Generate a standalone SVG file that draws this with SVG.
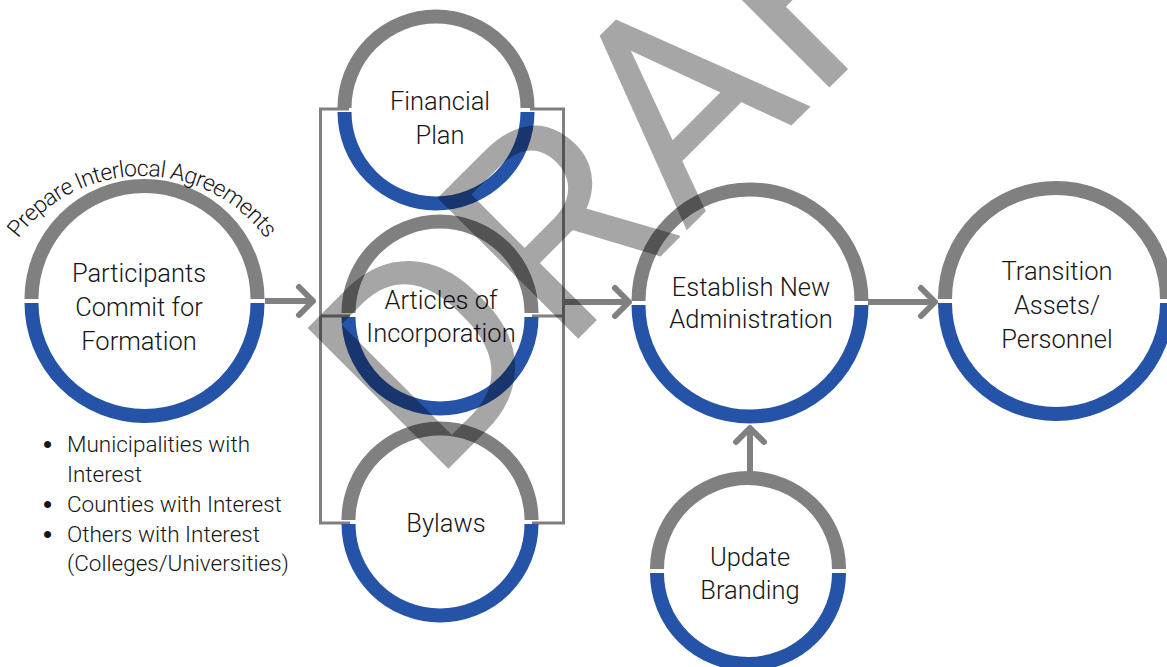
<svg xmlns="http://www.w3.org/2000/svg" width="1167" height="667" viewBox="0 0 1167 667">
  <defs>
    <style>
      .top { fill: none; stroke: #808080; stroke-width: 14; }
      .bot { fill: none; stroke: #2553A8; stroke-width: 14; }
      .lbl { font-family: Roboto, "Open Sans", "Liberation Sans", sans-serif; font-weight: 300; font-size: 25.5px; fill: #161616; text-anchor: middle; }
      .bul { font-family: Roboto, "Open Sans", "Liberation Sans", sans-serif; font-weight: 300; font-size: 22.5px; fill: #161616; }
      .dot { font-family: "Liberation Sans", sans-serif; font-size: 26px; fill: #161616; }
      .arc { font-family: Roboto, "Open Sans", "Liberation Sans", sans-serif; font-weight: 300; font-size: 23px; letter-spacing: -0.6px; fill: #161616; }
      .wire { fill: none; stroke: #808080; stroke-width: 3; }
      .arrow { fill: none; stroke: #808080; stroke-width: 6; }
      .mark { font-family: Roboto, "Open Sans", "Liberation Sans", sans-serif; font-weight: 400; font-size: 280px; fill: #000; fill-opacity: 0.35; }
    </style>
    <marker id="chev" viewBox="-20 -20 26 40" markerWidth="26" markerHeight="40" refX="0" refY="0" orient="auto" markerUnits="userSpaceOnUse">
      <path d="M-14,-14 L0,0 L-14,14" fill="none" stroke="#808080" stroke-width="6" stroke-linecap="round" stroke-linejoin="round"/>
    </marker>
    <path id="arcPath" d="M -12 330 A 154 154 0 0 1 296 330"/>
  </defs>

  <rect width="1167" height="667" fill="#fff"/>

  <!-- connectors -->
  <g id="connectors">
    <path class="wire" d="M349,109 H320.5 V523 H350 M320.5,316 H350"/>
    <path class="wire" d="M530,109 H563.5 V523 H532 M532,316 H563.5"/>
    <path class="arrow" d="M265,301 H313" marker-end="url(#chev)"/>
    <path class="arrow" d="M563.5,302 H629" marker-end="url(#chev)"/>
    <path class="arrow" d="M868,302 H935" marker-end="url(#chev)"/>
    <path class="arrow" d="M750,473 V428" marker-end="url(#chev)"/>
  </g>

  <!-- Participants -->
  <g id="participants">
    <path class="top" d="M31.5,299 A113 113 0 0 1 257.5,299"/>
    <path class="bot" d="M257.5,303 A113 113 0 0 1 31.5,303"/>
    <text class="lbl" x="139" y="282">Participants</text>
    <text class="lbl" x="139" y="316">Commit for</text>
    <text class="lbl" x="139" y="350">Formation</text>
    <text class="arc"><textPath href="#arcPath" startOffset="50%" text-anchor="middle">Prepare Interlocal Agreements</textPath></text>
    <text class="dot" x="43" y="453">•</text><text class="bul" x="67" y="452">Municipalities with</text>
    <text class="bul" x="67" y="482">Interest</text>
    <text class="dot" x="43" y="513">•</text><text class="bul" x="67" y="512">Counties with Interest</text>
    <text class="dot" x="43" y="543">•</text><text class="bul" x="67" y="542">Others with Interest</text>
    <text class="bul" x="67" y="571">(Colleges/Universities)</text>
  </g>

  <!-- Financial Plan -->
  <g id="financial-plan">
    <path class="top" d="M344.5,108 A91.5 91.5 0 0 1 527.5,108"/>
    <path class="bot" d="M527.5,112 A91.5 91.5 0 0 1 344.5,112"/>
    <text class="lbl" x="440" y="110">Financial</text>
    <text class="lbl" x="440" y="144">Plan</text>
  </g>

  <!-- Articles of Incorporation -->
  <g id="articles">
    <path class="top" d="M348.5,313 A91.5 91.5 0 0 1 531.5,313"/>
    <path class="bot" d="M531.5,317 A91.5 91.5 0 0 1 348.5,317"/>
    <text class="lbl" x="441" y="309">Articles of</text>
    <text class="lbl" x="441" y="342">Incorporation</text>
  </g>

  <!-- Bylaws -->
  <g id="bylaws">
    <path class="top" d="M348.5,520 A91.5 91.5 0 0 1 531.5,520"/>
    <path class="bot" d="M531.5,524 A91.5 91.5 0 0 1 348.5,524"/>
    <text class="lbl" x="446" y="532">Bylaws</text>
  </g>

  <!-- Establish New Administration -->
  <g id="establish">
    <path class="top" d="M638.5,301 A111.5 111.5 0 0 1 861.5,301"/>
    <path class="bot" d="M861.5,305 A111.5 111.5 0 0 1 638.5,305"/>
    <text class="lbl" x="751" y="296">Establish New</text>
    <text class="lbl" x="751" y="328">Administration</text>
  </g>

  <!-- Transition Assets/Personnel -->
  <g id="transition">
    <path class="top" d="M945,299 A111 111 0 0 1 1167,299"/>
    <path class="bot" d="M1167,303 A111 111 0 0 1 945,303"/>
    <text class="lbl" x="1057" y="280">Transition</text>
    <text class="lbl" x="1057" y="314">Assets/</text>
    <text class="lbl" x="1057" y="348">Personnel</text>
  </g>

  <!-- Update Branding -->
  <g id="update-branding">
    <path class="top" d="M657,569 A91 91 0 0 1 839,569"/>
    <path class="bot" d="M839,573 A91 91 0 0 1 657,573"/>
    <text class="lbl" x="750" y="566">Update</text>
    <text class="lbl" x="750" y="599">Branding</text>
  </g>

  <!-- watermark -->
  <g id="watermark">
    <text class="mark" transform="translate(432,485) rotate(-45)">DRAFT</text>
  </g>
</svg>
